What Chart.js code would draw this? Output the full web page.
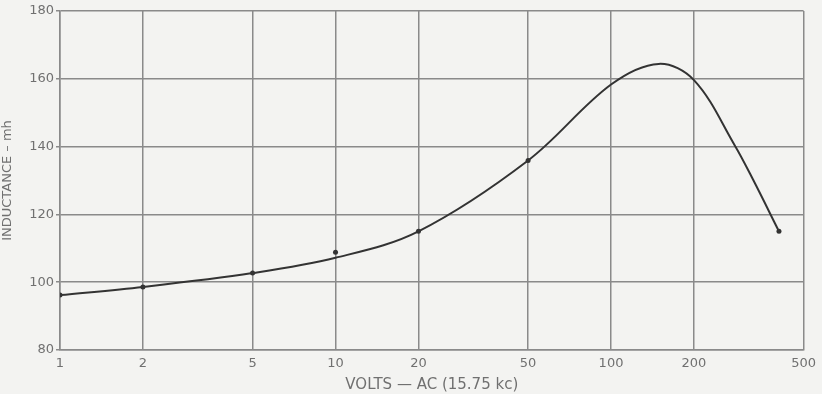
<!DOCTYPE html>
<html>
<head>
<meta charset="utf-8">
<script src="https://cdn.jsdelivr.net/npm/chart.js@4"></script>
<style>
  html, body { margin: 0; padding: 0; background: #f3f3f1; }
  #wrap { width: 822px; height: 394px; }
</style>
</head>
<body>
<div id="wrap"><canvas id="inductChart"></canvas></div>
<script>
// volts (log scale) and inductance in mh
const curveVolts = [1, 2, 5, 10, 20, 50, 100, 149, 200, 282, 328, 407];
const curveMh    = [96.2, 98.6, 102.7, 107.2, 115, 135.9, 158.3, 164.4, 159.6, 140.2, 130.2, 115];

// plotted measurement dots
const pointVolts = [1, 2, 5, 10, 20, 50, 407];
const pointMh    = [96.2, 98.6, 102.7, 108.8, 115, 135.9, 115];

const xTicks = [1, 2, 5, 10, 20, 50, 100, 200, 500];
const yTicks = [80, 100, 120, 140, 160, 180];

const inkColor = '#333333';
const gridColor = '#8a8a8a';
const labelColor = '#707070';

const ctx = document.getElementById('inductChart').getContext('2d');

const myChart = new Chart(ctx, {
    type: 'line',
    data: {
        datasets: [{
            label: 'curve',
            data: curveVolts.map((v, i) => ({ x: v, y: curveMh[i] })),
            borderColor: inkColor,
            borderWidth: 2,
            pointRadius: 0,
            tension: 0.35,
            fill: false
        }, {
            label: 'points',
            data: pointVolts.map((v, i) => ({ x: v, y: pointMh[i] })),
            showLine: false,
            pointRadius: 2.5,
            pointBackgroundColor: inkColor,
            pointBorderWidth: 0
        }]
    },
    options: {
        responsive: true,
        maintainAspectRatio: false,
        animation: false,
        layout: { padding: { top: 11, right: 18, left: 0, bottom: 0 } },
        plugins: {
            legend: { display: false },
            tooltip: { enabled: false }
        },
        scales: {
            x: {
                type: 'logarithmic',
                min: 1,
                max: 500,
                afterBuildTicks: axis => { axis.ticks = xTicks.map(v => ({ value: v })); },
                afterFit: axis => { axis.height = 44; },
                grid: { color: gridColor, lineWidth: 1.5, drawTicks: false },
                border: { color: gridColor, width: 1.5 },
                ticks: {
                    color: labelColor,
                    padding: 6,
                    maxRotation: 0,
                    autoSkip: false,
                    font: { family: 'DejaVu Sans', size: 13 },
                    callback: v => String(v)
                },
                title: {
                    display: true,
                    text: 'VOLTS \u2014 AC (15.75 kc)',
                    color: labelColor,
                    font: { family: 'DejaVu Sans', size: 15 },
                    padding: { top: 2, bottom: 0 }
                }
            },
            y: {
                min: 80,
                max: 180,
                afterBuildTicks: axis => { axis.ticks = yTicks.map(v => ({ value: v })); },
                afterFit: axis => { axis.width = 60; },
                grid: { color: gridColor, lineWidth: 1.5, tickLength: 4 },
                border: { color: gridColor, width: 1.5 },
                ticks: {
                    color: labelColor,
                    padding: 2,
                    font: { family: 'DejaVu Sans', size: 13 }
                },
                title: {
                    display: true,
                    text: 'INDUCTANCE \u2013 mh',
                    color: labelColor,
                    font: { family: 'DejaVu Sans', size: 13 },
                    padding: { top: 0, bottom: 2 }
                }
            }
        }
    }
});
</script>
</body>
</html>
